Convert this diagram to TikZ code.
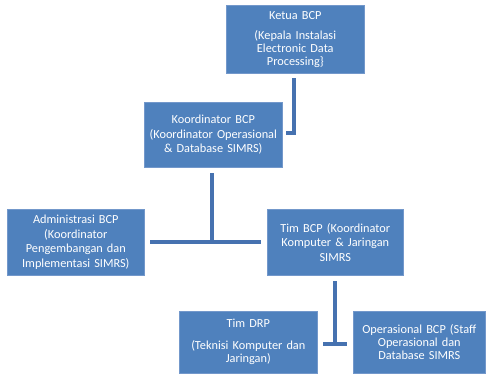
\documentclass[tikz,border=0pt]{standalone}
\usepackage{fontspec}
\setmainfont{Carlito}
\definecolor{boxblue}{HTML}{4F81BD}
\definecolor{boxedge}{HTML}{7398CB}
\definecolor{linkblue}{HTML}{4672B0}
\begin{document}
\begin{tikzpicture}[x=1pt,y=-1pt,
  orgbox/.style={fill=boxblue, draw=boxedge, line width=0.6pt, text=white,
    align=center, font=\fontsize{12.3}{14.5}\selectfont, inner sep=0pt,
    anchor=north west},
  tightbox/.style={orgbox, font=\fontsize{12.3}{13}\selectfont},
  link/.style={draw=linkblue, line width=4.5pt}]
\useasboundingbox (0,0) rectangle (486,376);

% boxes of the organisation chart
\node[tightbox, minimum width=138pt, minimum height=68pt, text width=136pt] (ketua) at (226,5)
  {Ketua BCP\\[7pt](Kepala Instalasi\\Electronic Data\\Processing\}};
\node[orgbox, minimum width=138pt, minimum height=65pt, text width=138pt] (koord) at (144,102)
  {Koordinator BCP\\(Koordinator Operasional\\\& Database SIMRS)};
\node[orgbox, minimum width=137pt, minimum height=66pt, text width=135pt] (admin) at (7,209)
  {Administrasi BCP\\(Koordinator\\Pengembangan dan\\Implementasi SIMRS)};
\node[orgbox, minimum width=136pt, minimum height=66pt, text width=134pt] (timbcp) at (267,209)
  {Tim BCP (Koordinator\\Komputer \& Jaringan\\SIMRS};
\node[tightbox, minimum width=138pt, minimum height=62pt, text width=136pt] (timdrp) at (179,311)
  {Tim DRP\\[9pt](Teknisi Komputer dan\\Jaringan)};
\node[tightbox, minimum width=132pt, minimum height=62pt, text width=130pt] (ops) at (353,311)
  {Operasional BCP (Staff\\Operasional dan\\Database SIMRS};

% connector endpoints
\coordinate (k1) at (294,78);
\coordinate (k2) at (294,133);
\coordinate (k3) at (286,133);
\coordinate (c1) at (212,173);
\coordinate (c2) at (212,242);
\coordinate (cl) at (150,242);
\coordinate (cr) at (261,242);
\coordinate (t1) at (335,281);
\coordinate (t2) at (335,344);
\coordinate (tl) at (323,344);
\coordinate (tr) at (347,344);

% connectors
\draw[link] (k1) -- (k2) -- (k3);
\draw[link] (c1) -- (c2);
\draw[link] (cl) -- (cr);
\draw[link] (t1) -- (t2);
\draw[link] (tl) -- (tr);
\end{tikzpicture}
\end{document}
